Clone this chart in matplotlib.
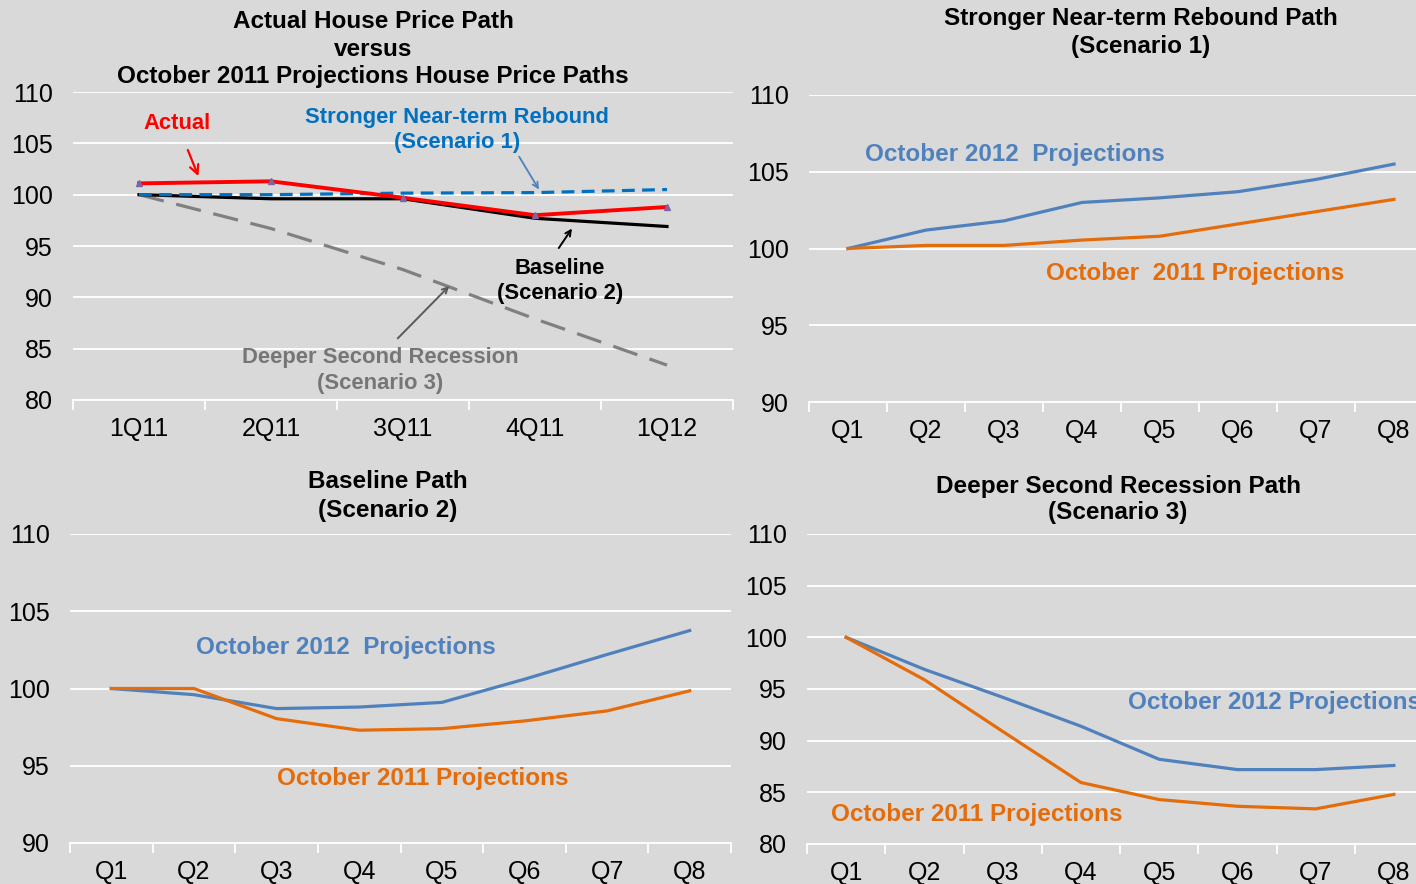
import matplotlib.pyplot as plt

plt.rcParams['font.family'] = ['Liberation Sans', 'DejaVu Sans']

### DATA
qtr_labels = ['1Q11', '2Q11', '3Q11', '4Q11', '1Q12']
actual = [101.1, 101.3, 99.7, 98.0, 98.8]
baseline_2011 = [100.0, 99.6, 99.6, 97.7, 96.9]
rebound_2011 = [100.0, 100.0, 100.15, 100.2, 100.5]
recession_2011 = [100.0, 96.7, 92.7, 87.9, 83.4]

q_labels = ['Q1', 'Q2', 'Q3', 'Q4', 'Q5', 'Q6', 'Q7', 'Q8']
s1_oct2012 = [100.0, 101.2, 101.8, 103.0, 103.3, 103.7, 104.5, 105.5]
s1_oct2011 = [100.0, 100.2, 100.2, 100.55, 100.8, 101.6, 102.4, 103.2]
s2_oct2012 = [100.0, 99.6, 98.7, 98.8, 99.1, 100.6, 102.2, 103.75]
s2_oct2011 = [100.0, 100.0, 98.05, 97.3, 97.4, 97.9, 98.55, 99.85]
s3_oct2012 = [100.0, 96.9, 94.2, 91.4, 88.2, 87.2, 87.2, 87.6]
s3_oct2011 = [100.0, 95.9, 90.9, 85.95, 84.3, 83.65, 83.4, 84.8]

### STYLE
BG = '#D9D9D9'
BLUE = '#4F81BD'
ORANGE = '#E46C0A'
W, H = 1416, 884
TITLE_FS = 17.5
LABEL_FS = 17.5
NOTE_FS = 15.8


def make_ax(fig, x0, x1, ytop, ybot):
    # axes placed by pixel box (origin top-left)
    return fig.add_axes([x0 / W, (H - ybot) / H, (x1 - x0) / W, (ybot - ytop) / H])


def style_ax(ax, labels, ylim):
    n = len(labels)
    ax.set_facecolor(BG)
    ax.set_xlim(-0.5, n - 0.5)
    ax.set_ylim(*ylim)
    ax.set_yticks(range(ylim[0], ylim[1] + 1, 5))
    ax.set_xticks(range(n))
    ax.set_xticklabels(labels)
    ax.set_xticks([i - 0.5 for i in range(n + 1)], minor=True)
    ax.grid(axis='y', color='white', lw=1.3)
    ax.set_axisbelow(True)
    for s in ['top', 'right', 'left']:
        ax.spines[s].set_visible(False)
    ax.spines['bottom'].set_color('white')
    ax.spines['bottom'].set_linewidth(1.3)
    ax.tick_params(axis='x', which='major', length=0, pad=12.5, labelsize=18)
    ax.tick_params(axis='x', which='minor', length=7, color='white', width=1.3)
    ax.tick_params(axis='y', length=0, pad=14.5, labelsize=18)


def title_lines(fig, xc, lines, ys):
    for line, y in zip(lines, ys):
        fig.text(xc / W, 1 - y / H, line, ha='center', va='center',
                 fontsize=TITLE_FS, fontweight='bold')


fig = plt.figure(figsize=(W / 100, H / 100), dpi=100)
fig.patch.set_facecolor(BG)

### TOP-LEFT: actual vs Oct 2011 paths
ax = make_ax(fig, 73, 733, 92, 400)
style_ax(ax, qtr_labels, (80, 110))
x5 = range(len(qtr_labels))
ax.plot(x5, recession_2011, color='#808080', lw=2.3, dashes=(8, 4))
ax.plot(x5, baseline_2011, color='black', lw=2.3)
ax.plot(x5, rebound_2011, color='#0070C0', lw=2.3, dashes=(4, 2.3))
ax.plot(x5, actual, color='#FF0000', lw=2.8, marker='^', ms=5, mfc='#8064A2', mec='#8064A2')
title_lines(fig, 373, ['Actual House Price Path', 'versus',
                       'October 2011 Projections House Price Paths'], [22, 50, 77])

ax.annotate('Actual', xy=(0.45, 101.8), xytext=(0.29, 106.9), ha='center', va='center',
            color='#FF0000', fontsize=NOTE_FS, fontweight='bold',
            arrowprops=dict(arrowstyle='->', color='#FF0000', lw=1.6, shrinkA=10, shrinkB=0))
ax.text(2.41, 106.3, 'Stronger Near-term Rebound\n(Scenario 1)', ha='center', va='center',
        color='#0070C0', fontsize=NOTE_FS, fontweight='bold', linespacing=1.3)
ax.annotate('', xy=(3.03, 100.5), xytext=(2.88, 103.7),
            arrowprops=dict(arrowstyle='->', color=BLUE, lw=1.3, shrinkA=0, shrinkB=0))
ax.text(3.19, 91.6, 'Baseline\n(Scenario 2)', ha='center', va='center',
        color='black', fontsize=NOTE_FS, fontweight='bold', linespacing=1.3)
ax.annotate('', xy=(3.28, 96.7), xytext=(3.18, 94.8),
            arrowprops=dict(arrowstyle='->', color='black', lw=1.4, shrinkA=0, shrinkB=0))
ax.text(1.83, 82.9, 'Deeper Second Recession\n(Scenario 3)', ha='center', va='center',
        color='#767676', fontsize=NOTE_FS, fontweight='bold', linespacing=1.3)
ax.annotate('', xy=(2.35, 91.1), xytext=(1.96, 86.0),
            arrowprops=dict(arrowstyle='->', color='#595959', lw=1.4, shrinkA=0, shrinkB=0))

### TOP-RIGHT: scenario 1
x8 = range(len(q_labels))
ax = make_ax(fig, 809, 1433, 95, 402)
style_ax(ax, q_labels, (90, 110))
ax.plot(x8, s1_oct2012, color=BLUE, lw=2.3)
ax.plot(x8, s1_oct2011, color=ORANGE, lw=2.3)
title_lines(fig, 1141, ['Stronger Near-term Rebound Path', '(Scenario 1)'], [19, 47])
ax.text(2.14, 106.1, 'October 2012  Projections', ha='center', va='center',
        color=BLUE, fontsize=LABEL_FS, fontweight='bold')
ax.text(4.45, 98.37, 'October  2011 Projections', ha='center', va='center',
        color=ORANGE, fontsize=LABEL_FS, fontweight='bold')

### BOTTOM-LEFT: scenario 2
ax = make_ax(fig, 70, 731, 534, 843)
style_ax(ax, q_labels, (90, 110))
ax.plot(x8, s2_oct2012, color=BLUE, lw=2.3)
ax.plot(x8, s2_oct2011, color=ORANGE, lw=2.3)
title_lines(fig, 388, ['Baseline Path', '(Scenario 2)'], [482, 510])
ax.text(2.84, 102.65, 'October 2012  Projections', ha='center', va='center',
        color=BLUE, fontsize=LABEL_FS, fontweight='bold')
ax.text(3.77, 94.17, 'October 2011 Projections', ha='center', va='center',
        color=ORANGE, fontsize=LABEL_FS, fontweight='bold')

### BOTTOM-RIGHT: scenario 3
ax = make_ax(fig, 807, 1433, 534, 844)
style_ax(ax, q_labels, (80, 110))
ax.plot(x8, s3_oct2012, color=BLUE, lw=2.3)
ax.plot(x8, s3_oct2011, color=ORANGE, lw=2.3)
title_lines(fig, 1118, ['Deeper Second Recession Path', '(Scenario 3)'], [486, 513])
# runs past the right edge, as in the original slide
ax.text(3.60, 93.7, 'October 2012 Projections', ha='left', va='center',
        color=BLUE, fontsize=LABEL_FS, fontweight='bold')
ax.text(1.67, 82.9, 'October 2011 Projections', ha='center', va='center',
        color=ORANGE, fontsize=LABEL_FS, fontweight='bold')

fig.savefig('out.png', dpi=100, facecolor=BG)
